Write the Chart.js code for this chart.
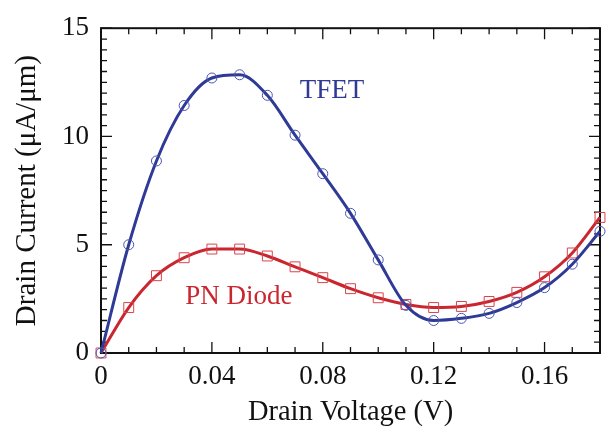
<!DOCTYPE html>
<html lang="en">
<head>
<meta charset="UTF-8">
<title>Drain Current x Drain Voltage</title>
<script src="https://cdn.jsdelivr.net/npm/chart.js"></script>
<style>
  body { margin: 0; background: #fff; }
  #box { width: 608px; height: 432px; }
</style>
</head>
<body>
<div id="box"><canvas id="grafico" width="608" height="432"></canvas></div>
<script>
// valores
const voltagens = [0, 0.01, 0.02, 0.03, 0.04, 0.05, 0.06, 0.07, 0.08, 0.09, 0.10, 0.11, 0.12, 0.13, 0.14, 0.15, 0.16, 0.17, 0.18];
const correnteTfet = [0, 5.0, 8.87, 11.43, 12.7, 12.85, 11.9, 10.06, 8.28, 6.45, 4.3, 2.2, 1.5, 1.6, 1.83, 2.33, 3.02, 4.1, 5.62];
const correnteDiodo = [0, 2.1, 3.57, 4.4, 4.8, 4.8, 4.48, 3.98, 3.48, 2.97, 2.55, 2.24, 2.1, 2.15, 2.38, 2.8, 3.52, 4.62, 6.26];
const ticksX = [0, 0.04, 0.08, 0.12, 0.16];
const ticksY = [0, 5, 10, 15];
const rotulos = [
    { texto: "TFET", x: 0.0833, y: 12.1, cor: "#2f3a96" },
    { texto: "PN Diode", x: 0.0497, y: 2.6, cor: "#c9262f" }
];

const azul = "#2f3a96";
const vermelho = "#c9262f";
const fonte = "Liberation Serif";

const moldura = {
    id: "moldura",
    beforeDatasetsDraw(chart) {
        const { ctx, chartArea: a, scales } = chart;
        ctx.save();
        ctx.strokeStyle = "#111";
        ctx.lineWidth = 2;
        ctx.strokeRect(a.left, a.top, a.right - a.left, a.bottom - a.top);
        ctx.lineWidth = 1.3;
        ctx.beginPath();
        for (let i = 0; i <= 18; i++) {
            const px = scales.x.getPixelForValue(i / 100);
            const len = (i % 4 === 0) ? 11 : 6;
            ctx.moveTo(px, a.bottom); ctx.lineTo(px, a.bottom - len);
            ctx.moveTo(px, a.top); ctx.lineTo(px, a.top + len);
        }
        for (let i = 0; i <= 30; i++) {
            const py = scales.y.getPixelForValue(i / 2);
            const len = (i % 10 === 0) ? 11 : 6;
            ctx.moveTo(a.left, py); ctx.lineTo(a.left + len, py);
            ctx.moveTo(a.right, py); ctx.lineTo(a.right - len, py);
        }
        ctx.stroke();
        ctx.restore();
    },
    afterDatasetsDraw(chart) {
        const { ctx, scales } = chart;
        ctx.save();
        ctx.font = "27px Liberation Serif";
        ctx.textAlign = "center";
        ctx.textBaseline = "middle";
        rotulos.forEach(r => {
            ctx.fillStyle = r.cor;
            ctx.fillText(r.texto, scales.x.getPixelForValue(r.x), scales.y.getPixelForValue(r.y));
        });
        ctx.restore();
    }
};

new Chart(document.getElementById("grafico"), {
    type: "line",
    data: {
        datasets: [
            {
                label: "TFET",
                data: voltagens.map((v, i) => ({ x: v, y: correnteTfet[i] })),
                borderColor: azul,
                borderWidth: 3,
                pointStyle: "circle",
                pointRadius: 5,
                pointBorderWidth: 1,
                pointBorderColor: "#4a55b0",
                pointBackgroundColor: "rgba(0,0,0,0)",
                cubicInterpolationMode: "monotone",
                clip: false
            },
            {
                label: "PN Diode",
                data: voltagens.map((v, i) => ({ x: v, y: correnteDiodo[i] })),
                borderColor: vermelho,
                borderWidth: 3,
                pointStyle: "rect",
                pointRadius: 7,
                pointBorderWidth: 1,
                pointBorderColor: "#d8454c",
                pointBackgroundColor: "rgba(0,0,0,0)",
                cubicInterpolationMode: "monotone",
                clip: false
            }
        ]
    },
    options: {
        responsive: false,
        animation: false,
        layout: { padding: { top: 25, right: 6, left: 0, bottom: 0 } },
        plugins: { legend: { display: false }, tooltip: { enabled: false } },
        scales: {
            x: {
                type: "linear",
                min: 0,
                max: 0.18,
                grid: { display: false, drawTicks: false },
                border: { display: false },
                afterBuildTicks: eixo => { eixo.ticks = ticksX.map(v => ({ value: v })); },
                afterFit: eixo => { eixo.height = 79; },
                ticks: {
                    color: "#111",
                    font: { family: fonte, size: 27 },
                    padding: 8,
                    maxRotation: 0,
                    callback: v => String(v)
                },
                title: {
                    display: true,
                    text: "Drain Voltage (V)",
                    color: "#111",
                    font: { family: fonte, size: 28.5 },
                    padding: { top: 0, bottom: 2 }
                }
            },
            y: {
                type: "linear",
                min: 0,
                max: 15,
                grid: { display: false, drawTicks: false },
                border: { display: false },
                afterBuildTicks: eixo => { eixo.ticks = ticksY.map(v => ({ value: v })); },
                afterFit: eixo => { eixo.width = 101; },
                ticks: {
                    color: "#111",
                    font: { family: fonte, size: 27 },
                    padding: 12,
                    callback: v => String(v)
                },
                title: {
                    display: true,
                    text: "Drain Current (\u03bcA/\u03bcm)",
                    color: "#111",
                    font: { family: fonte, size: 29 },
                    padding: { top: 10, bottom: 0 }
                }
            }
        }
    },
    plugins: [moldura]
});
</script>
</body>
</html>
